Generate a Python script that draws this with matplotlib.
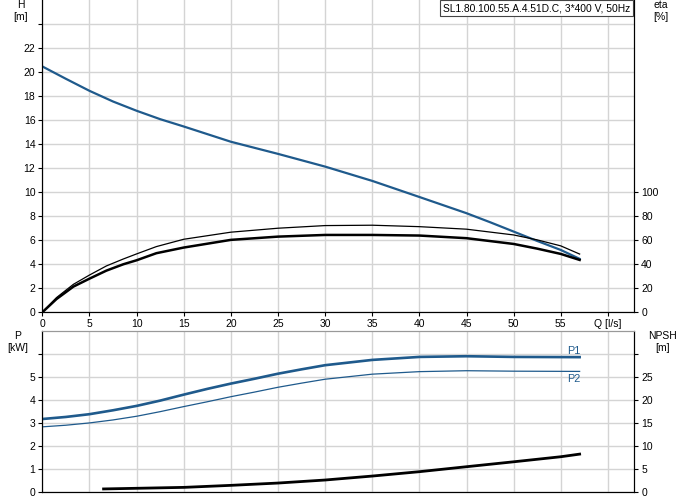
import matplotlib.pyplot as plt

# H curve (m)
q_h = [0, 2.5, 5, 7.5, 10, 12.5, 15, 20, 25, 30, 35, 40, 45, 47.5, 50, 52.5, 55, 57]
h = [20.47, 19.44, 18.44, 17.55, 16.78, 16.08, 15.47, 14.2, 13.19, 12.13, 10.94, 9.6,
     8.25, 7.5, 6.72, 5.94, 5.19, 4.45]

# efficiency curves (%)
q_eta = [0, 1.5, 3.3, 5, 6.8, 8.6, 10, 12.1, 15, 20, 25, 30, 35, 40, 45, 50, 52.5, 55, 57]
eta_thin = [0, 12.2, 23.3, 31, 38.6, 44.4, 48.6, 54.7, 60.8, 66.7, 70, 72.2, 72.5, 71.3,
            69.2, 64.4, 60.3, 55.3, 48.5]
eta_thick = [0, 11, 21.4, 28, 34.7, 40, 43.3, 49.2, 53.9, 60.3, 63, 64.4, 64.4, 63.9,
             61.7, 56.9, 53, 48.6, 43.6]

# power curves (kW)
q_p = [0, 2.5, 5, 7.5, 10, 12.5, 15, 17.5, 20, 22.5, 25, 27.5, 30, 35, 40, 45, 50, 57]
p1 = [3.16, 3.25, 3.37, 3.54, 3.73, 3.96, 4.22, 4.47, 4.7, 4.91, 5.13, 5.32, 5.5, 5.73,
      5.86, 5.89, 5.86, 5.85]
p2 = [2.82, 2.89, 2.99, 3.12, 3.28, 3.48, 3.7, 3.91, 4.13, 4.33, 4.54, 4.72, 4.89, 5.11,
      5.22, 5.26, 5.24, 5.23]

# NPSH (m)
q_npsh = [6.5, 10, 15, 20, 25, 30, 35, 40, 45, 50, 55, 57]
npsh = [0.6, 0.74, 0.94, 1.38, 1.88, 2.54, 3.4, 4.35, 5.43, 6.5, 7.6, 8.17]

q_ticks = [0, 5, 10, 15, 20, 25, 30, 35, 40, 45, 50, 55, 60]
q_labels = ['0', '5', '10', '15', '20', '25', '30', '35', '40', '45', '50', '55', 'Q [l/s]']
title = 'SL1.80.100.55.A.4.51D.C, 3*400 V, 50Hz'

blue = '#1f5a8c'
grid_c = '#d4d4d4'
fs = 7.5

plt.rcParams['font.family'] = ['Liberation Sans', 'DejaVu Sans']
plt.rcParams['font.size'] = fs

fig = plt.figure(figsize=(6.91, 5.0), dpi=100)
W, H = 691, 500

def frac(l, t, r, b):
    return [l / W, 1 - b / H, (r - l) / W, (b - t) / H]

ax1 = fig.add_axes(frac(42.3, 0, 634.3, 312.3))
ax2 = fig.add_axes(frac(42.3, 330.7, 634.3, 491.7))

for ax in (ax1, ax2):
    ax.set_xlim(0, 62.8)
    ax.set_xticks(q_ticks)
    ax.grid(True, color=grid_c, lw=1)
    ax.set_axisbelow(True)
    ax.tick_params(length=3, width=0.8, pad=2, labelsize=fs)
    ax.spines['top'].set_color('#999999')

# top panel
ax1.set_ylim(0, 26)
ax1.set_yticks(range(0, 26, 2))
ax1.set_yticklabels([str(v) if v <= 22 else '' for v in range(0, 26, 2)])
ax1.set_xticklabels(q_labels)
ax1.spines['top'].set_visible(False)
ax1.plot(q_h, h, color=blue, lw=1.6)

ax1r = ax1.twinx()
ax1r.set_ylim(0, 260)
ax1r.set_yticks(range(0, 101, 20))
ax1r.tick_params(length=3, width=0.8, pad=2, labelsize=fs)
ax1r.spines['top'].set_visible(False)
ax1r.plot(q_eta, eta_thin, color='black', lw=0.9)
ax1r.plot(q_eta, eta_thick, color='black', lw=1.8)

ax1.text(-0.036, 0.985, 'H', transform=ax1.transAxes, ha='center', va='center')
ax1.text(-0.036, 0.945, '[m]', transform=ax1.transAxes, ha='center', va='center')
ax1.text(1.045, 0.985, 'eta', transform=ax1.transAxes, ha='center', va='center')
ax1.text(1.045, 0.945, '[%]', transform=ax1.transAxes, ha='center', va='center')
ax1.text(0.993, 0.99, title, transform=ax1.transAxes, ha='right', va='top', fontsize=7.4,
         bbox=dict(boxstyle='square,pad=0.3', fc='white', ec='#444444', lw=0.8), zorder=10)

# bottom panel
ax2.set_ylim(0, 7)
ax2.set_yticks(range(0, 7))
ax2.set_yticklabels([str(v) if v <= 5 else '' for v in range(0, 7)])
ax2.tick_params(axis='x', length=0, labelbottom=False)
ax2.plot(q_p, p1, color=blue, lw=1.9)
ax2.plot(q_p, p2, color=blue, lw=0.9)
ax2.text(q_p[-1] - 1.3, p1[-1] + 0.28, 'P1', color=blue, fontsize=7.8, ha='left', va='center')
ax2.text(q_p[-1] - 1.3, p2[-1] - 0.33, 'P2', color=blue, fontsize=7.8, ha='left', va='center')

ax2r = ax2.twinx()
ax2r.set_ylim(0, 35)
ax2r.set_yticks(range(0, 31, 5))
ax2r.set_yticklabels([str(v) if v <= 25 else '' for v in range(0, 31, 5)])
ax2r.tick_params(length=3, width=0.8, pad=2, labelsize=fs)
ax2r.spines['top'].set_color('#999999')
ax2r.plot(q_npsh, npsh, color='black', lw=2.0)

ax2.text(-0.042, 0.97, 'P', transform=ax2.transAxes, ha='center', va='center')
ax2.text(-0.042, 0.895, '[kW]', transform=ax2.transAxes, ha='center', va='center')
ax2.text(1.047, 0.97, 'NPSH', transform=ax2.transAxes, ha='center', va='center')
ax2.text(1.047, 0.895, '[m]', transform=ax2.transAxes, ha='center', va='center')

fig.savefig('out.png', dpi=100)
